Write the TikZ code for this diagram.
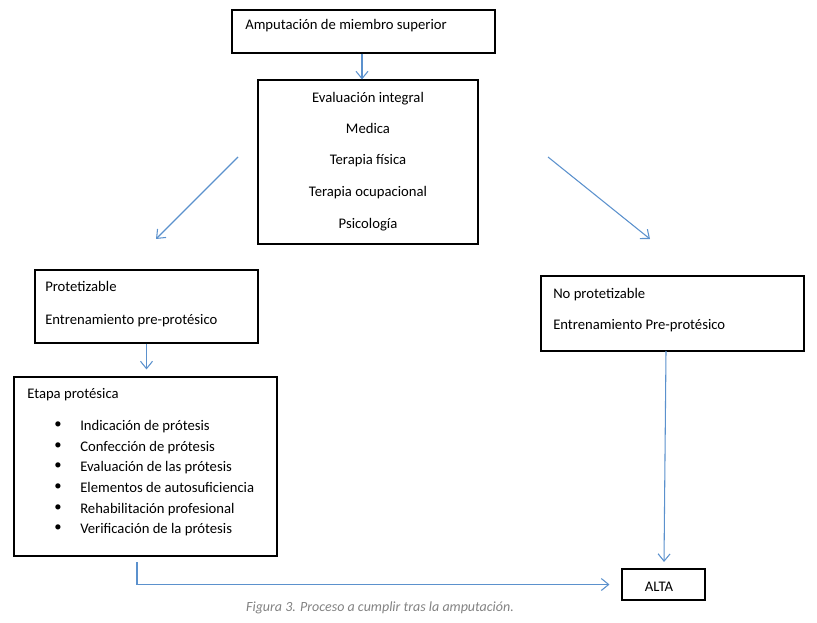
\documentclass[tikz,border=0pt]{standalone}
\usepackage{fontspec}
\setmainfont{Carlito}
\usetikzlibrary{arrows.meta,fit}
\definecolor{arrblue}{RGB}{91,145,205}
\definecolor{capgray}{RGB}{130,130,130}
\begin{document}
\begin{tikzpicture}[x=0.75pt,y=-0.75pt,
  box/.style={draw=black, line width=0.8pt, inner sep=0pt},
  txt/.style={anchor=west, inner sep=0pt, text height=7.6pt, text depth=0pt, font=\fontsize{11}{13}\selectfont},
  ctxt/.style={anchor=center, inner sep=0pt, text height=7.6pt, text depth=0pt, font=\fontsize{11}{13}\selectfont},
  arr/.style={draw=arrblue, line width=0.8pt, -{Straight Barb[length=5.5pt,width=9pt]}}]
\useasboundingbox (0,0) rectangle (817,623);
% boxes
\node[box, fit={(232,10) (495,53)}] (top) {};
\node[box, fit={(258,80) (478,244)}] (eval) {};
\node[box, fit={(35,270) (258,343)}] (prot) {};
\node[box, fit={(541,276) (804,351)}] (noprot) {};
\node[box, fit={(14,377) (277,556)}] (etapa) {};
\node[box, fit={(622,569) (705,600)}] (alta) {};
% texts
\node[txt] (t1) at (245,24) {Amputación de miembro superior};
\node[ctxt] (e1) at (368,97) {Evaluación integral};
\node[ctxt] (e2) at (368,128) {Medica};
\node[ctxt] (e3) at (368,159) {Terapia física};
\node[ctxt] (e4) at (368,191) {Terapia ocupacional};
\node[ctxt] (e5) at (368,223) {Psicología};
\node[txt] (p1) at (45,286) {Protetizable};
\node[txt] (p2) at (45,319) {Entrenamiento pre-protésico};
\node[txt] (n1) at (553,293) {No protetizable};
\node[txt] (n2) at (553,324) {Entrenamiento Pre-protésico};
\node[txt] (s0) at (27,393) {Etapa protésica};
\foreach \y/\t [count=\i] in {425/Indicación de prótesis,446/Confección de prótesis,466/Evaluación de las prótesis,487/Elementos de autosuficiencia,508/Rehabilitación profesional,528/Verificación de la prótesis}{
  \node[ctxt, text height=5pt] (b\i) at (58,\y) {•};
  \node[txt] (s\i) at (80,\y) {\t};
}
\node[ctxt] (a1) at (659,586) {ALTA};
\node[anchor=center, inner sep=0pt, text=capgray, text height=7.6pt, text depth=0pt, font=\fontsize{10.5}{12}\selectfont\itshape] (cap) at (380,606) {Figura 3. Proceso a cumplir tras la amputación.};
% coordinates
\coordinate (d1) at (238,157);
\coordinate (d2) at (156,239);
\coordinate (d3) at (548,157);
\coordinate (d4) at (650,239);
\coordinate (c1) at (137,562);
\coordinate (n0) at (666,351);
\coordinate (n9) at (664,562);
% connectors
\draw[arr] (top.south -| 362,0) -- (eval.north -| 362,0);
\draw[arr] (d1) -- (d2);
\draw[arr] (d3) -- (d4);
\draw[arr, shorten >=7pt*0.75] (prot.south) -- (prot.south |- etapa.north);
\draw[arr] (n0) -- (n9);
\draw[arr, shorten >=9pt] (c1) |- (alta.west);
\end{tikzpicture}
\end{document}
